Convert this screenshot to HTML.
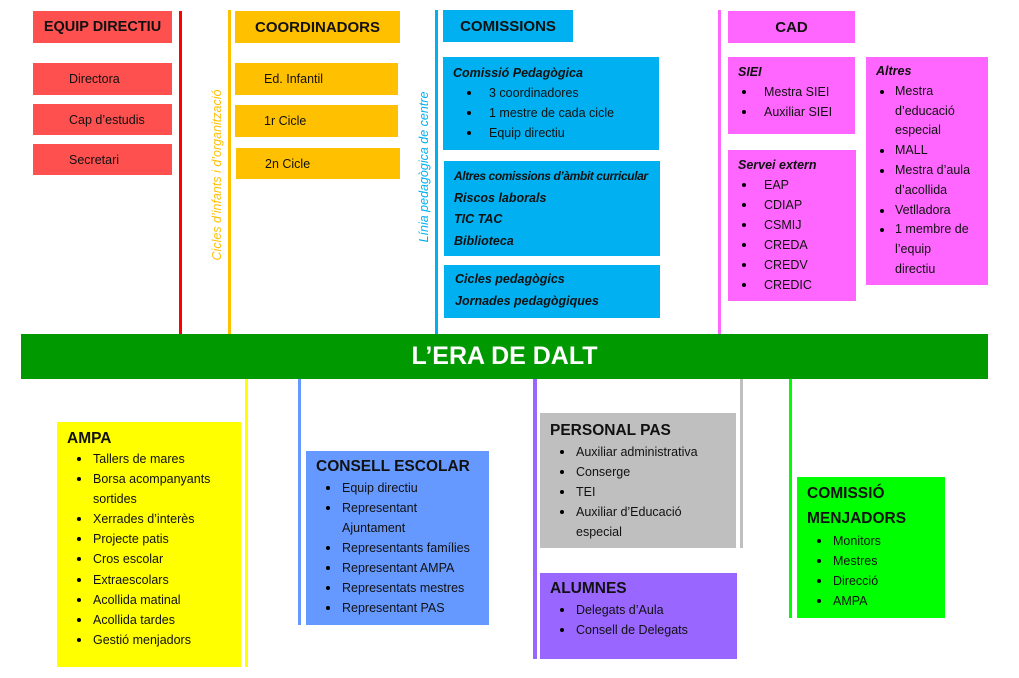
<!DOCTYPE html>
<html><head><meta charset="utf-8"><style>
*{margin:0;padding:0;box-sizing:border-box}
body{width:1019px;height:678px;background:#fff;position:relative;overflow:hidden;font-family:"Liberation Sans",sans-serif;color:#111}
.a{position:absolute}
.hd{font-weight:bold;font-size:15px;display:flex;align-items:center;justify-content:center;white-space:nowrap}
.it{font-size:12.5px;display:flex;align-items:center;padding-left:36px}
.bx{position:absolute;font-size:12.5px;line-height:20px;white-space:nowrap}
.bx .t{font-weight:bold;font-size:15.5px;line-height:22px}
.bx .i{font-style:italic;font-weight:bold;font-size:12.5px}
.bx .l{position:relative;padding-left:36px}
.bx .l:before{content:"";position:absolute;left:14px;top:8px;width:4px;height:4px;border-radius:50%;background:#000}
.vt{position:absolute;transform:rotate(-90deg);transform-origin:center;font-style:italic;font-size:12.5px;white-space:nowrap;text-align:center}
</style></head><body>
<div class="a" style="left:179px;top:11px;width:3px;height:323px;background:#f00"></div>
<div class="a" style="left:228px;top:10px;width:3px;height:324px;background:#ffc000"></div>
<div class="a" style="left:435px;top:10px;width:3px;height:324px;background:#00b0f0"></div>
<div class="a" style="left:718px;top:10px;width:3px;height:324px;background:#ff66ff"></div>
<div class="vt" style="left:118px;top:167px;width:200px;height:16px;color:#ffc000">Cicles d’infants i d’organització</div>
<div class="vt" style="left:340px;top:159px;width:170px;height:16px;color:#00b0f0">Línia pedagògica de centre</div>

<div class="a hd" style="left:33px;top:11px;width:139px;height:32px;background:#ff5050;font-size:14.5px">EQUIP DIRECTIU</div>
<div class="a it" style="left:33px;top:63px;width:139px;height:32px;background:#ff5050">Directora</div>
<div class="a it" style="left:33px;top:104px;width:139px;height:31px;background:#ff5050">Cap d’estudis</div>
<div class="a it" style="left:33px;top:144px;width:139px;height:31px;background:#ff5050">Secretari</div>

<div class="a hd" style="left:235px;top:11px;width:165px;height:32px;background:#ffc000">COORDINADORS</div>
<div class="a it" style="left:235px;top:63px;width:163px;height:32px;background:#ffc000;padding-left:29px">Ed. Infantil</div>
<div class="a it" style="left:235px;top:105px;width:163px;height:32px;background:#ffc000;padding-left:29px">1r Cicle</div>
<div class="a it" style="left:236px;top:148px;width:164px;height:31px;background:#ffc000;padding-left:29px">2n Cicle</div>

<div class="a hd" style="left:443px;top:10px;width:130px;height:32px;background:#00b0f0">COMISSIONS</div>
<div class="bx" style="left:443px;top:57px;width:216px;height:93px;background:#00b0f0;padding:6px 10px">
<div class="i">Comissió Pedagògica</div><div class="l">3 coordinadores</div><div class="l">1 mestre de cada cicle</div><div class="l">Equip directiu</div></div>
<div class="bx" style="left:444px;top:161px;width:216px;height:95px;background:#00b0f0;padding:5px 10px;line-height:21.5px">
<div class="i" style="font-size:12px;letter-spacing:-0.4px">Altres comissions d’àmbit curricular</div><div class="i">Riscos laborals</div><div class="i">TIC TAC</div><div class="i">Biblioteca</div></div>
<div class="bx" style="left:444px;top:265px;width:216px;height:53px;background:#00b0f0;padding:4px 11px;line-height:21.5px">
<div class="i">Cicles pedagògics</div><div class="i">Jornades pedagògiques</div></div>

<div class="a hd" style="left:728px;top:11px;width:127px;height:32px;background:#ff66ff">CAD</div>
<div class="bx" style="left:728px;top:57px;width:127px;height:77px;background:#ff66ff;padding:5px 10px">
<div class="i">SIEI</div><div class="l" style="margin-left:-10px">Mestra SIEI</div><div class="l" style="margin-left:-10px">Auxiliar SIEI</div></div>
<div class="bx" style="left:728px;top:150px;width:128px;height:151px;background:#ff66ff;padding:5px 10px">
<div class="i">Servei extern</div><div class="l" style="margin-left:-10px">EAP</div><div class="l" style="margin-left:-10px">CDIAP</div><div class="l" style="margin-left:-10px">CSMIJ</div><div class="l" style="margin-left:-10px">CREDA</div><div class="l" style="margin-left:-10px">CREDV</div><div class="l" style="margin-left:-10px">CREDIC</div></div>
<div class="bx" style="left:866px;top:57px;width:122px;height:228px;background:#ff66ff;padding:5px 10px;line-height:19.8px">
<div class="i">Altres</div><div class="l" style="margin-left:-10px;padding-left:29px">Mestra<br>d’educació<br>especial</div><div class="l" style="margin-left:-10px;padding-left:29px">MALL</div><div class="l" style="margin-left:-10px;padding-left:29px">Mestra d’aula<br>d’acollida</div><div class="l" style="margin-left:-10px;padding-left:29px">Vetlladora</div><div class="l" style="margin-left:-10px;padding-left:29px">1 membre de<br>l’equip<br>directiu</div></div>

<div class="a" style="left:21px;top:334px;width:967px;height:45px;background:#009900;color:#fff;font-weight:bold;font-size:25px;display:flex;align-items:center;justify-content:center">L’ERA DE DALT</div>

<div class="a" style="left:245px;top:379px;width:3px;height:288px;background:#ffff00"></div>
<div class="a" style="left:298px;top:379px;width:3px;height:246px;background:#6699ff"></div>
<div class="a" style="left:533px;top:379px;width:4px;height:280px;background:#9966ff"></div>
<div class="a" style="left:740px;top:379px;width:3px;height:169px;background:#bfbfbf"></div>
<div class="a" style="left:789px;top:379px;width:3px;height:239px;background:#00ff00"></div>

<div class="bx" style="left:57px;top:422px;width:184px;height:245px;background:#ffff00;padding:7px 10px;line-height:20.1px">
<div class="t" style="line-height:20px">AMPA</div><div class="l" style="margin-left:-4px;padding-left:30px">Tallers de mares</div><div class="l" style="margin-left:-4px;padding-left:30px">Borsa acompanyants<br>sortides</div><div class="l" style="margin-left:-4px;padding-left:30px">Xerrades d’interès</div><div class="l" style="margin-left:-4px;padding-left:30px">Projecte patis</div><div class="l" style="margin-left:-4px;padding-left:30px">Cros escolar</div><div class="l" style="margin-left:-4px;padding-left:30px">Extraescolars</div><div class="l" style="margin-left:-4px;padding-left:30px">Acollida matinal</div><div class="l" style="margin-left:-4px;padding-left:30px">Acollida tardes</div><div class="l" style="margin-left:-4px;padding-left:30px">Gestió menjadors</div></div>

<div class="bx" style="left:306px;top:451px;width:183px;height:174px;background:#6699ff;padding:5px 10px">
<div class="t">CONSELL ESCOLAR</div><div class="l" style="margin-left:-4px;padding-left:30px">Equip directiu</div><div class="l" style="margin-left:-4px;padding-left:30px">Representant<br>Ajuntament</div><div class="l" style="margin-left:-4px;padding-left:30px">Representants famílies</div><div class="l" style="margin-left:-4px;padding-left:30px">Representant AMPA</div><div class="l" style="margin-left:-4px;padding-left:30px">Representats mestres</div><div class="l" style="margin-left:-4px;padding-left:30px">Representant PAS</div></div>

<div class="bx" style="left:540px;top:413px;width:196px;height:135px;background:#bfbfbf;padding:7px 10px">
<div class="t">PERSONAL PAS</div><div class="l" style="margin-left:-4px;padding-left:30px">Auxiliar administrativa</div><div class="l" style="margin-left:-4px;padding-left:30px">Conserge</div><div class="l" style="margin-left:-4px;padding-left:30px">TEI</div><div class="l" style="margin-left:-4px;padding-left:30px">Auxiliar d’Educació<br>especial</div></div>

<div class="bx" style="left:540px;top:573px;width:197px;height:86px;background:#9966ff;padding:5px 10px">
<div class="t">ALUMNES</div><div class="l" style="margin-left:-4px;padding-left:30px">Delegats d’Aula</div><div class="l" style="margin-left:-4px;padding-left:30px">Consell de Delegats</div></div>

<div class="bx" style="left:797px;top:477px;width:148px;height:141px;background:#00ff00;padding:4px 10px">
<div class="t" style="line-height:25px">COMISSIÓ<br>MENJADORS</div><div class="l" style="margin-left:-4px;padding-left:30px">Monitors</div><div class="l" style="margin-left:-4px;padding-left:30px">Mestres</div><div class="l" style="margin-left:-4px;padding-left:30px">Direcció</div><div class="l" style="margin-left:-4px;padding-left:30px">AMPA</div></div>
</body></html>
